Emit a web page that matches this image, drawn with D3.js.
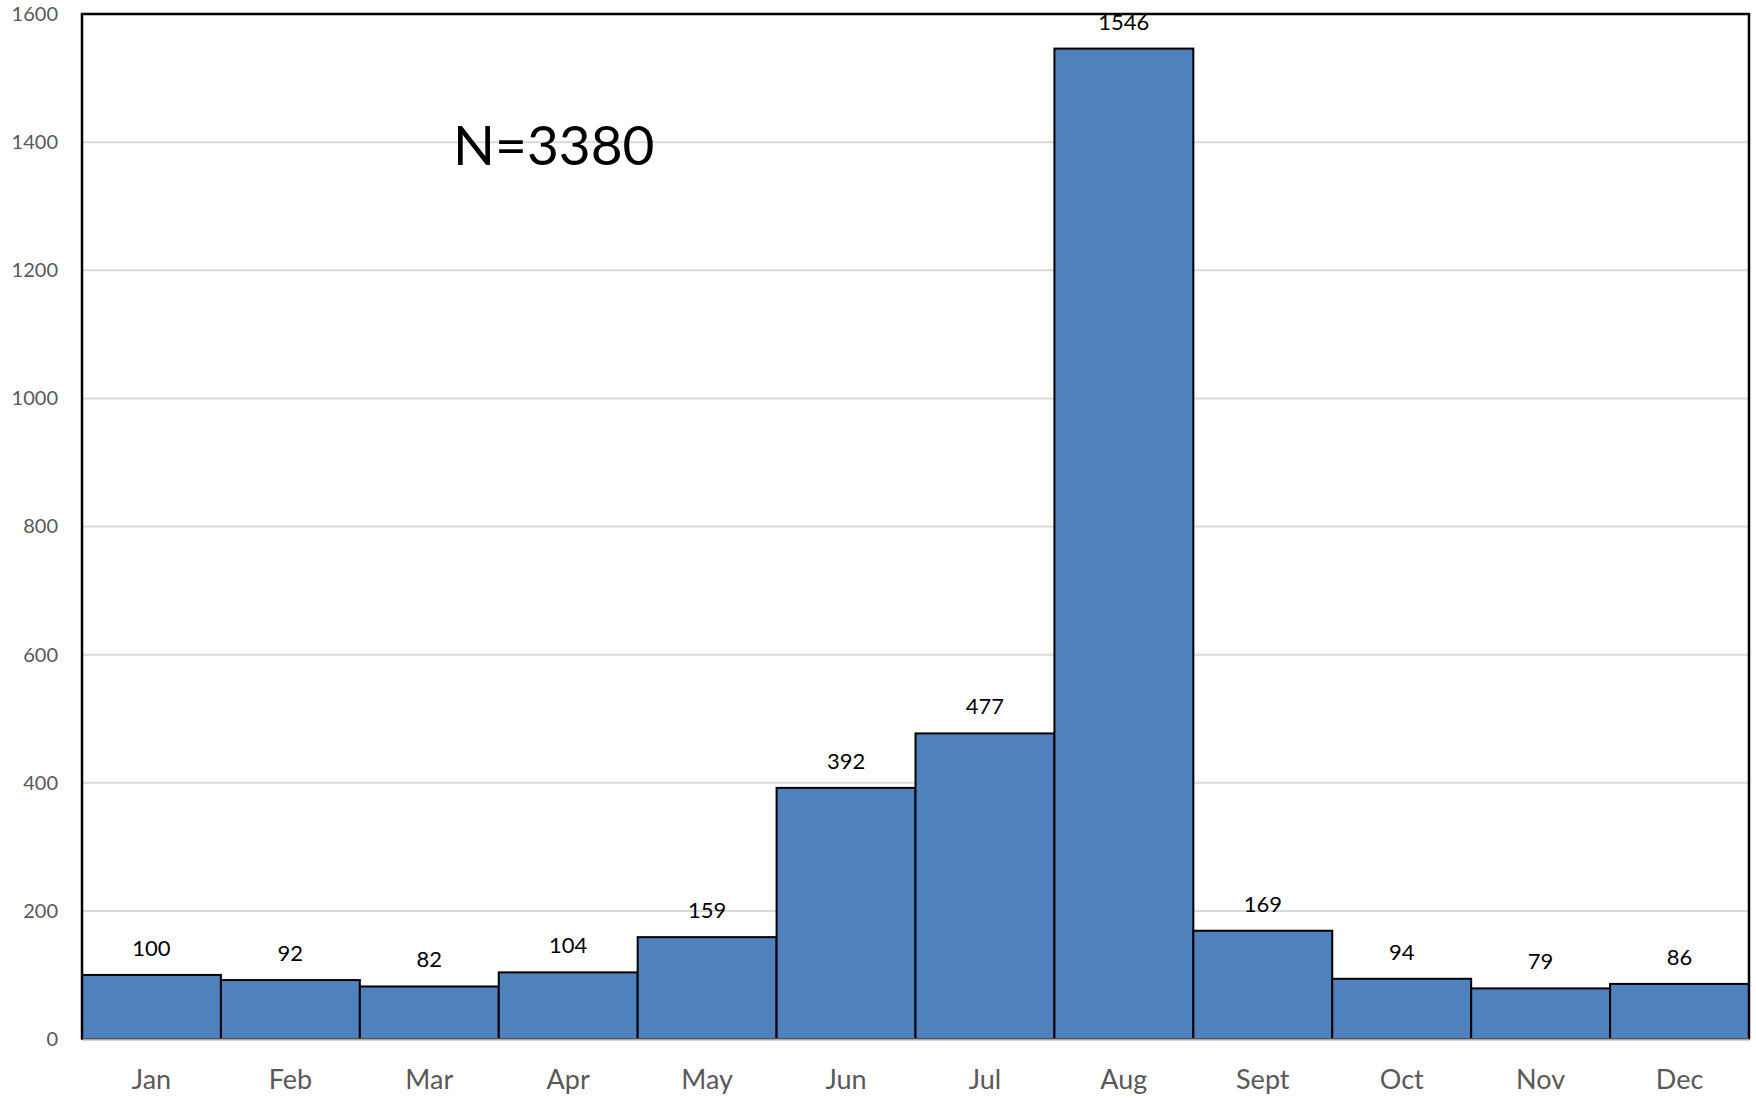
<!DOCTYPE html>
<html lang="en">
<head>
<meta charset="UTF-8">
<title>Monthly counts</title>
<script src="https://cdn.jsdelivr.net/npm/d3@7"></script>
<style>
body{margin:0;background:#fff;}
text{font-family:Lato,"Open Sans",sans-serif;}
</style>
</head>
<body>
<div id="grafica"></div>
<script>
// data
months=['Jan','Feb','Mar','Apr','May','Jun','Jul','Aug','Sept','Oct','Nov','Dec']
counts=[100,92,82,104,159,392,477,1546,169,94,79,86]
yTicks=[0,200,400,600,800,1000,1200,1400,1600]
total='N=3380'

ancho=1756
alto=1098
m={top:14,right:7,bottom:59,left:82}

svg=d3.select('#grafica')
	.append('svg')
	.attr('width',ancho)
	.attr('height',alto)

x=d3.scaleBand().domain(months).range([m.left,ancho-m.right]).padding(0)
y=d3.scaleLinear().domain([0,1600]).range([alto-m.bottom,m.top])

// gridlines
svg.selectAll('.grid').data(yTicks.slice(1,-1)).enter()
	.append('line')
	.attr('x1',m.left).attr('x2',ancho-m.right)
	.attr('y1',function(d){return y(d)}).attr('y2',function(d){return y(d)})
	.attr('stroke','#d9d9d9').attr('stroke-width',2)

// y axis labels
yAxis=d3.axisLeft(y).tickValues(yTicks).tickFormat(d3.format('d')).tickSize(0).tickPadding(24)
g=svg.append('g').attr('transform','translate('+m.left+',0)').call(yAxis)
g.select('.domain').remove()
g.selectAll('text').attr('font-size',20).attr('fill','#595959').attr('font-family','Lato,"Open Sans",sans-serif')

// bars
svg.selectAll('rect.bar').data(counts).enter()
	.append('rect')
	.attr('class','bar')
	.attr('x',function(d,i){return x(months[i])})
	.attr('y',function(d){return y(d)})
	.attr('width',x.bandwidth())
	.attr('height',function(d){return y(0)-y(d)})
	.attr('fill','#4f81bd')
	.attr('stroke','#000')
	.attr('stroke-width',2)

// value labels
svg.selectAll('text.val').data(counts).enter()
	.append('text')
	.attr('class','val')
	.attr('x',function(d,i){return x(months[i])+x.bandwidth()/2})
	.attr('y',function(d){return y(d)-19})
	.attr('text-anchor','middle')
	.attr('font-size',22)
	.attr('fill','#000')
	.text(function(d){return d})

// frame: left, top, right in black
svg.append('path')
	.attr('d','M'+m.left+','+y(0)+'V'+m.top+'H'+(ancho-m.right)+'V'+y(0))
	.attr('fill','none').attr('stroke','#000').attr('stroke-width',2.5)

// x axis
xAxis=d3.axisBottom(x).tickSize(0).tickPadding(31)
gx=svg.append('g').attr('transform','translate(0,'+y(0)+')').call(xAxis)
gx.select('.domain').attr('stroke','#a6a6a6').attr('stroke-width',2)
gx.selectAll('text').attr('font-size',27).attr('fill','#595959').attr('font-family','Lato,"Open Sans",sans-serif')

// N label
svg.append('text')
	.attr('x',453).attr('y',165)
	.attr('font-size',55)
	.attr('fill','#000')
	.text(total)
</script>
</body>
</html>
